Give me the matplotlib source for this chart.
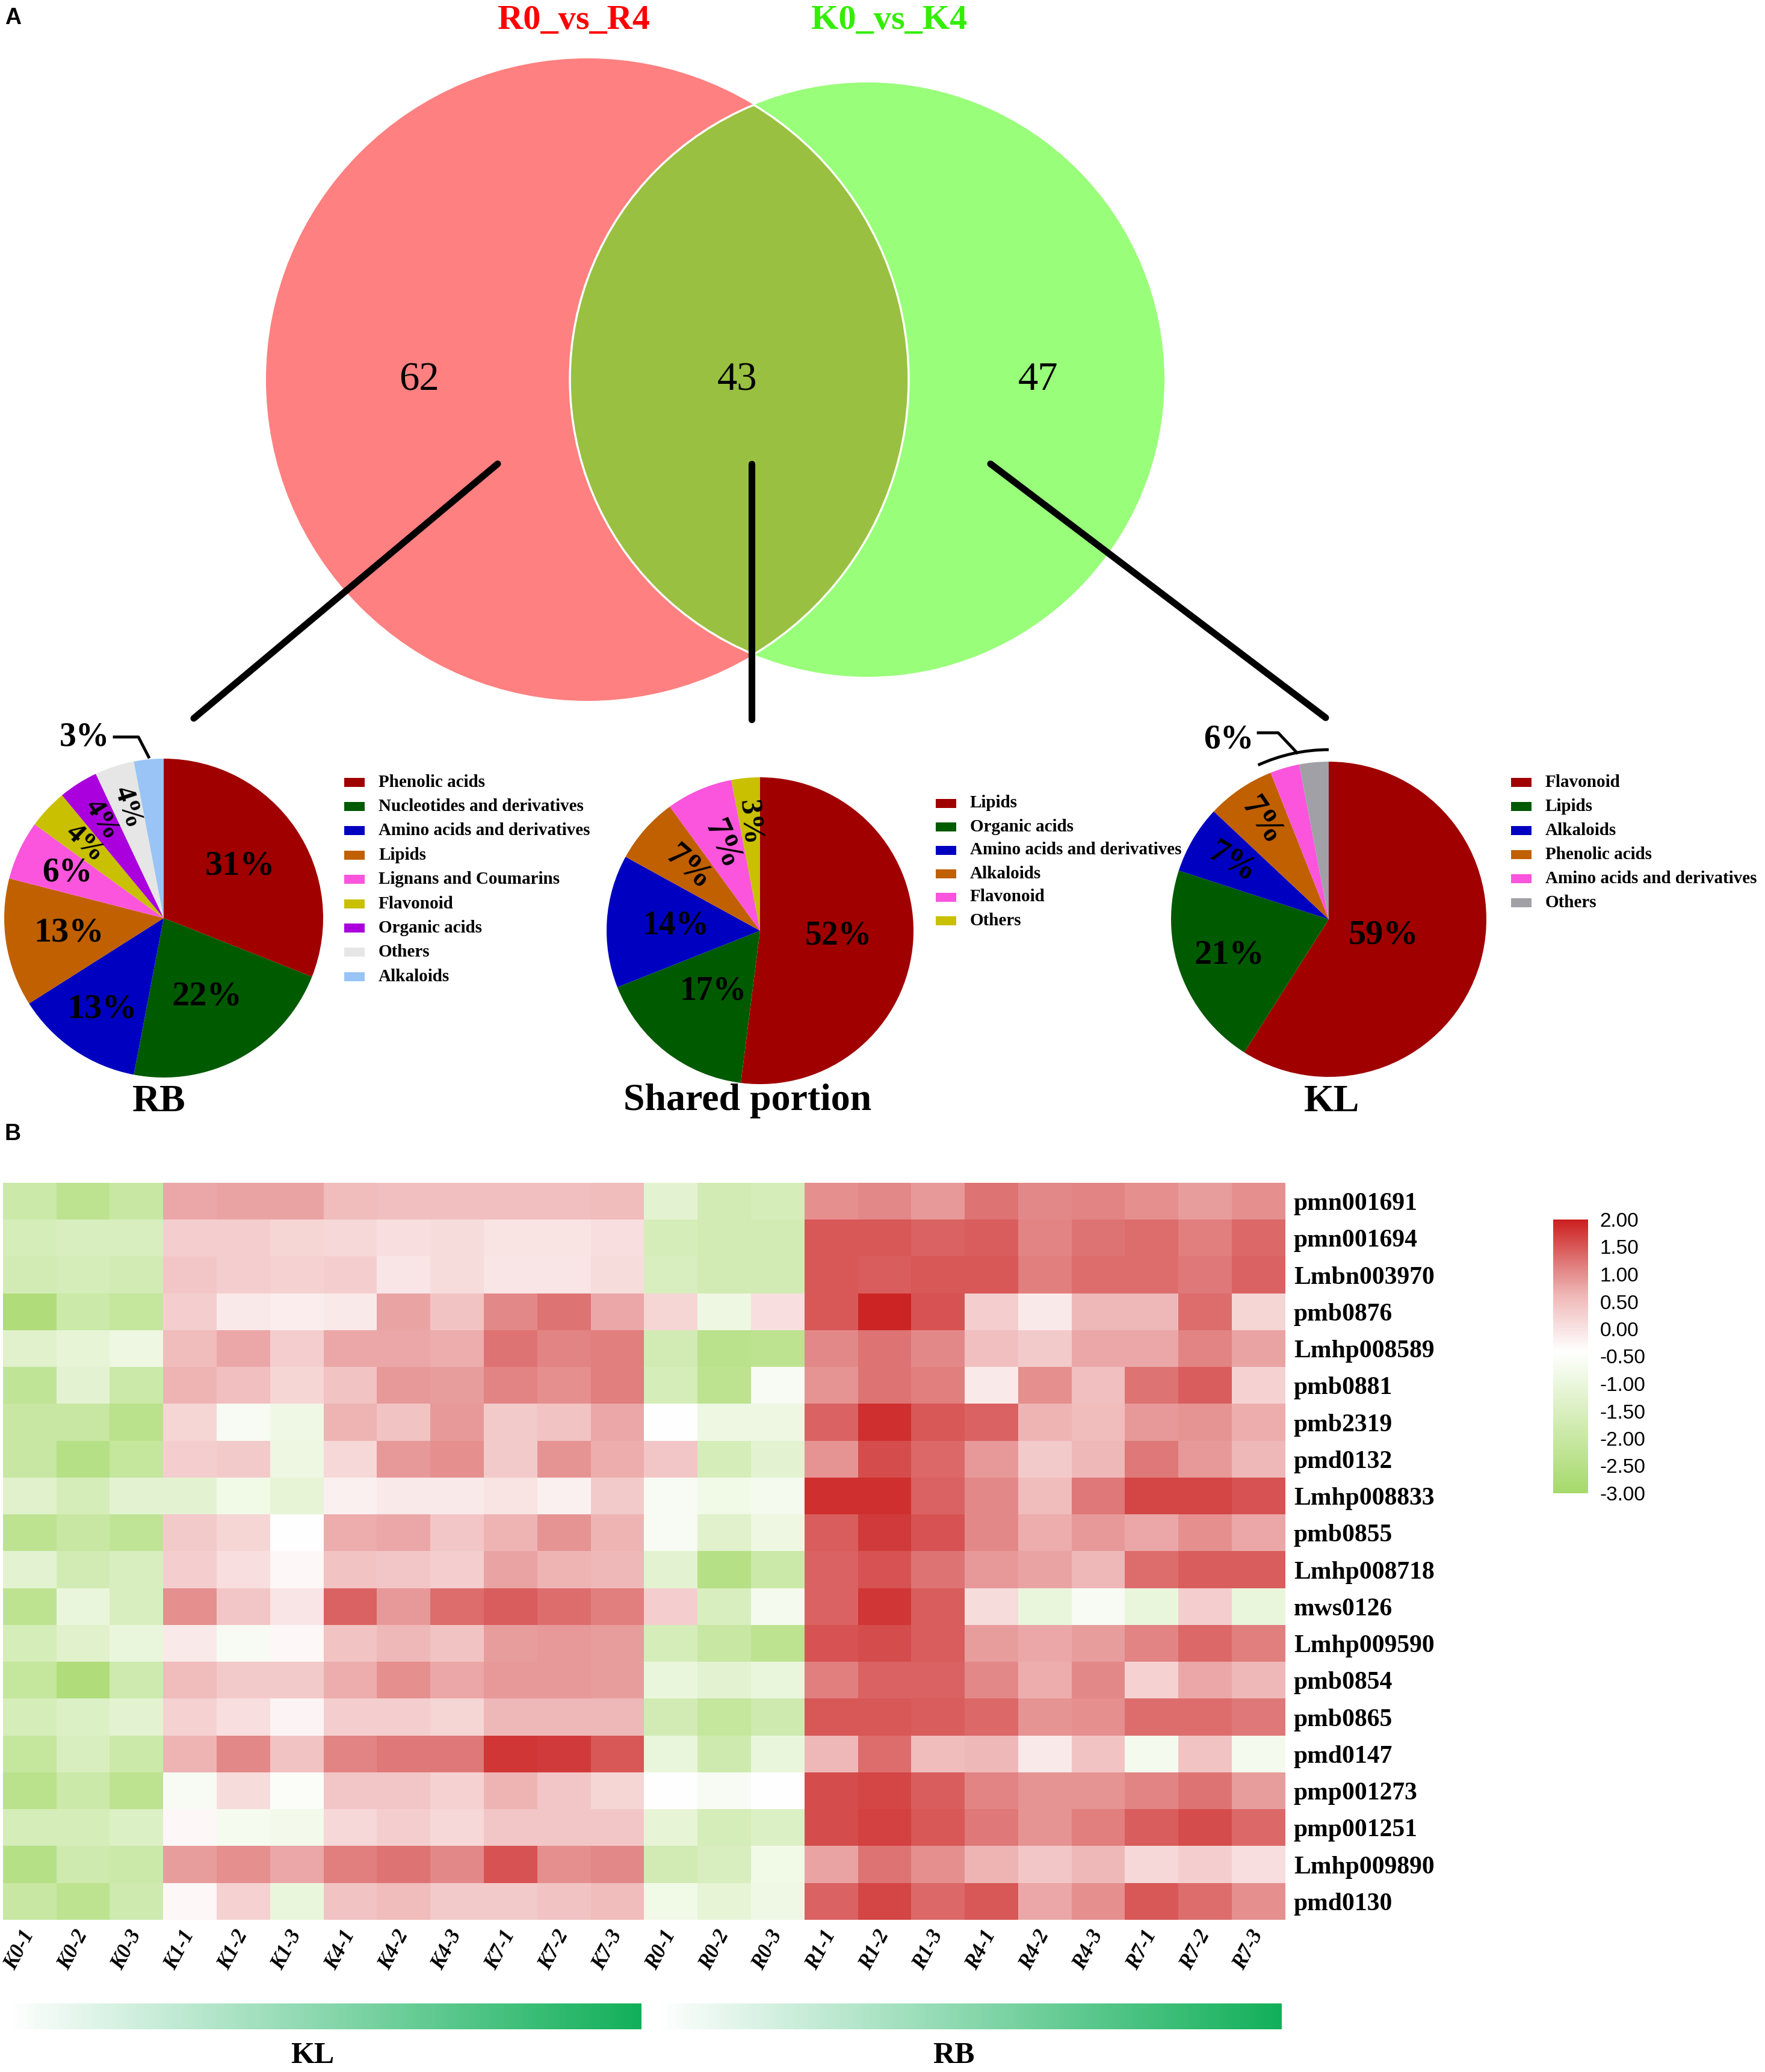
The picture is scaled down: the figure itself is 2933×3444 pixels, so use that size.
import numpy as np
import matplotlib.pyplot as plt
from matplotlib.patches import Circle, Rectangle, Arc
from matplotlib.colors import LinearSegmentedColormap

W, H = 2933, 3444
SERIF = 'Liberation Serif'
SANS = 'Liberation Sans'

# ---- data ----
venn_sets = ['R0_vs_R4', 'K0_vs_K4']
venn_counts = [62, 43, 47]   # R only, shared, K only

rb_classes = ['Phenolic acids', 'Nucleotides and derivatives', 'Amino acids and derivatives',
              'Lipids', 'Lignans and Coumarins', 'Flavonoid', 'Organic acids', 'Others', 'Alkaloids']
rb_pct = [31, 22, 13, 13, 6, 4, 4, 4, 3]
rb_colors = ['#a00000', '#005a00', '#0000c0', '#c06000', '#fa55dc', '#c8c000', '#aa00dd', '#e6e6e6', '#99c4f5']

shared_classes = ['Lipids', 'Organic acids', 'Amino acids and derivatives', 'Alkaloids', 'Flavonoid', 'Others']
shared_pct = [52, 17, 14, 7, 7, 3]
shared_colors = ['#a00000', '#005a00', '#0000c0', '#c06000', '#fa55dc', '#c8c000']

kl_classes = ['Flavonoid', 'Lipids', 'Alkaloids', 'Phenolic acids', 'Amino acids and derivatives', 'Others']
kl_pct = [59, 21, 7, 7, 3, 3]
kl_colors = ['#a00000', '#005a00', '#0000c0', '#c06000', '#fa55dc', '#a0a0a6']

metabolites = ['pmn001691', 'pmn001694', 'Lmbn003970', 'pmb0876', 'Lmhp008589', 'pmb0881',
               'pmb2319', 'pmd0132', 'Lmhp008833', 'pmb0855', 'Lmhp008718', 'mws0126',
               'Lmhp009590', 'pmb0854', 'pmb0865', 'pmd0147', 'pmp001273', 'pmp001251',
               'Lmhp009890', 'pmd0130']
samples = ['K0-1', 'K0-2', 'K0-3', 'K1-1', 'K1-2', 'K1-3', 'K4-1', 'K4-2', 'K4-3', 'K7-1', 'K7-2', 'K7-3',
           'R0-1', 'R0-2', 'R0-3', 'R1-1', 'R1-2', 'R1-3', 'R4-1', 'R4-2', 'R4-3', 'R7-1', 'R7-2', 'R7-3']
groups = ['KL', 'RB']

values = np.array([
    [-1.9, -2.3, -2.0, 0.75, 0.8, 0.8, 0.55, 0.5, 0.5, 0.5, 0.5, 0.55, -1.2, -1.7, -1.6, 1.0, 1.05, 0.9, 1.25, 1.05, 1.1, 1.0, 0.85, 1.0],
    [-1.6, -1.5, -1.5, 0.3, 0.3, 0.2, 0.15, 0.05, 0.1, 0.0, 0.0, 0.05, -1.6, -1.7, -1.7, 1.5, 1.5, 1.4, 1.45, 1.1, 1.25, 1.3, 1.15, 1.35],
    [-1.7, -1.6, -1.7, 0.4, 0.3, 0.25, 0.3, -0.05, 0.1, -0.05, -0.05, 0.1, -1.5, -1.7, -1.7, 1.5, 1.45, 1.5, 1.5, 1.15, 1.3, 1.3, 1.2, 1.4],
    [-2.7, -1.9, -2.1, 0.3, -0.1, -0.15, -0.1, 0.8, 0.45, 1.05, 1.25, 0.75, 0.2, -0.9, 0.05, 1.5, 1.95, 1.55, 0.3, -0.1, 0.6, 0.6, 1.3, 0.2],
    [-1.3, -1.1, -0.9, 0.55, 0.75, 0.3, 0.75, 0.75, 0.7, 1.25, 1.1, 1.15, -1.7, -2.4, -2.3, 1.05, 1.25, 1.05, 0.5, 0.35, 0.75, 0.75, 1.1, 0.8],
    [-2.2, -1.2, -1.9, 0.65, 0.5, 0.2, 0.45, 0.9, 0.85, 1.1, 1.0, 1.15, -1.6, -2.3, -0.6, 0.95, 1.25, 1.15, -0.1, 1.0, 0.5, 1.25, 1.45, 0.25],
    [-2.0, -2.0, -2.4, 0.2, -0.6, -0.85, 0.65, 0.45, 0.9, 0.35, 0.45, 0.75, -0.4, -0.9, -0.9, 1.4, 1.85, 1.5, 1.4, 0.65, 0.55, 0.9, 0.95, 0.7],
    [-2.0, -2.5, -2.1, 0.3, 0.35, -0.9, 0.15, 0.9, 1.0, 0.35, 0.95, 0.7, 0.4, -1.6, -1.2, 0.95, 1.6, 1.35, 0.9, 0.35, 0.6, 1.2, 0.9, 0.6],
    [-1.3, -1.6, -1.2, -1.2, -0.8, -1.1, -0.2, -0.1, -0.1, 0.0, -0.2, 0.35, -0.6, -0.8, -0.7, 1.85, 1.85, 1.4, 1.05, 0.55, 1.2, 1.65, 1.65, 1.55],
    [-2.3, -2.0, -2.2, 0.35, 0.2, -0.4, 0.7, 0.75, 0.4, 0.65, 0.95, 0.65, -0.6, -1.3, -0.9, 1.45, 1.75, 1.55, 1.05, 0.7, 0.9, 0.75, 1.0, 0.75],
    [-1.2, -1.7, -1.5, 0.3, 0.05, -0.3, 0.45, 0.4, 0.3, 0.8, 0.65, 0.6, -1.2, -2.5, -1.9, 1.4, 1.55, 1.25, 0.9, 0.8, 0.6, 1.3, 1.45, 1.45],
    [-2.3, -1.0, -1.5, 1.0, 0.4, -0.05, 1.4, 0.9, 1.3, 1.45, 1.3, 1.15, 0.3, -1.5, -0.7, 1.4, 1.8, 1.45, 0.1, -1.0, -0.6, -1.0, 0.3, -1.0],
    [-1.6, -1.3, -1.0, -0.1, -0.6, -0.3, 0.45, 0.6, 0.45, 0.85, 0.9, 0.85, -1.6, -2.0, -2.3, 1.55, 1.6, 1.45, 0.85, 0.75, 0.85, 1.1, 1.35, 1.15],
    [-2.1, -2.7, -1.8, 0.55, 0.35, 0.35, 0.7, 1.0, 0.75, 0.9, 0.9, 0.85, -1.0, -1.2, -1.0, 1.15, 1.4, 1.4, 1.05, 0.7, 1.05, 0.25, 0.75, 0.6],
    [-1.6, -1.4, -1.2, 0.25, 0.05, -0.25, 0.3, 0.3, 0.2, 0.6, 0.6, 0.6, -1.7, -2.1, -1.8, 1.5, 1.5, 1.45, 1.35, 0.95, 1.0, 1.3, 1.3, 1.2],
    [-2.1, -1.5, -1.9, 0.65, 1.05, 0.45, 1.1, 1.2, 1.2, 1.8, 1.75, 1.5, -1.0, -1.8, -1.0, 0.6, 1.3, 0.55, 0.6, -0.1, 0.45, -0.7, 0.45, -0.7],
    [-2.4, -1.9, -2.3, -0.6, 0.1, -0.5, 0.4, 0.4, 0.25, 0.65, 0.4, 0.2, -0.4, -0.6, -0.4, 1.6, 1.65, 1.45, 1.1, 0.95, 0.95, 1.1, 1.25, 0.85],
    [-1.6, -1.6, -1.4, -0.3, -0.65, -0.75, 0.15, 0.3, 0.15, 0.4, 0.4, 0.4, -1.1, -1.6, -1.4, 1.6, 1.7, 1.5, 1.2, 0.95, 1.15, 1.45, 1.6, 1.35],
    [-2.5, -1.8, -1.9, 0.85, 1.0, 0.75, 1.15, 1.25, 1.05, 1.55, 1.0, 1.05, -1.7, -1.5, -0.8, 0.8, 1.25, 1.0, 0.65, 0.4, 0.6, 0.15, 0.3, 0.05],
    [-2.0, -2.3, -1.8, -0.3, 0.25, -1.0, 0.45, 0.55, 0.35, 0.35, 0.45, 0.55, -0.8, -1.1, -0.85, 1.4, 1.65, 1.35, 1.5, 0.75, 1.0, 1.5, 1.3, 1.0],
])

cbar_ticks = np.arange(-3, 2.01, 0.5)


def iy(y):
    # image row -> data y (y up)
    return H - y


fig = plt.figure(figsize=(W / 100, H / 100), dpi=100)
ax0 = fig.add_axes([0, 0, 1, 1])

# ---- panel A: venn ----
ax0.text(8, iy(12), 'A', family=SANS, fontweight='bold', fontsize=27, ha='left', va='top')
ax0.text(954, iy(8), venn_sets[0], family=SERIF, fontweight='bold', fontsize=42,
         color='#ff0000', ha='center', va='top')
ax0.text(1478, iy(8), venn_sets[1], family=SERIF, fontweight='bold', fontsize=42,
         color='#33ee00', ha='center', va='top')

left = Circle((976, iy(631)), 534, fc='#ff8080', ec='none')
right = Circle((1441, iy(631)), 494, fc='#99ff7a', ec='none')
ax0.add_patch(left)
ax0.add_patch(right)
lens = Circle((1441, iy(631)), 494, fc='#99c040', ec='white', lw=2.5)
ax0.add_patch(lens)
lens.set_clip_path(left)
lens_edge = Circle((976, iy(631)), 534, fc='none', ec='white', lw=2.5)
ax0.add_patch(lens_edge)
lens_edge.set_clip_path(right)

for x, n in zip([696, 1225, 1725], venn_counts):
    ax0.text(x, iy(632), str(n), family=SERIF, fontsize=48, ha='center', va='center')

for (x1, y1), (x2, y2) in [((827, 771), (322, 1194)), ((1249, 771), (1249, 1196)), ((1646, 771), (2203, 1193))]:
    ax0.plot([x1, x2], [iy(y1), iy(y2)], color='black', lw=8, solid_capstyle='round')


def draw_pie(vals, cols, center, r, dists, rots, sizes):
    wedges, _ = ax0.pie(vals, colors=cols, center=center, radius=r, startangle=90,
                        counterclock=False, frame=True, wedgeprops={'linewidth': 0})
    for w, v, d, rot, fs in zip(wedges, vals, dists, rots, sizes):
        if d is None:
            continue
        ang = (w.theta1 + w.theta2) / 2
        x = center[0] + d * r * np.cos(np.deg2rad(ang))
        y = center[1] + d * r * np.sin(np.deg2rad(ang))
        rotation = (ang % 360) - 180 if rot else 0
        ax0.text(x, y, f'{v}%', family=SERIF, fontweight='bold', fontsize=fs,
                 rotation=rotation, ha='center', va='center', rotation_mode='anchor')
    return wedges


def draw_legend(classes, cols, x, y0, step):
    for i, (lab, c) in enumerate(zip(classes, cols)):
        y = y0 + i * step
        ax0.add_patch(Rectangle((x, iy(y) - 7.5), 34, 15, fc=c, ec='none'))
        ax0.text(x + 57, iy(y), lab, family=SERIF, fontweight='bold', fontsize=21,
                 ha='left', va='center')


# RB pie
rb_c, rb_r = (272, iy(1526)), 265
rb_w = draw_pie(rb_pct, rb_colors, rb_c, rb_r,
                [0.58, 0.56, 0.69, 0.6, 0.67, 0.68, 0.73, 0.73, None],
                [False] * 5 + [True] * 3 + [False],
                [42, 42, 42, 42, 40, 34, 34, 34, 0])
a = np.deg2rad((rb_w[-1].theta1 + rb_w[-1].theta2) / 2)
ex, ey = rb_c[0] + rb_r * np.cos(a), rb_c[1] + rb_r * np.sin(a)
ax0.plot([190, 230, ex], [iy(1225), iy(1225), ey + 4], color='black', lw=3.5)
ax0.text(140, iy(1226), f'{rb_pct[-1]}%', family=SERIF, fontweight='bold', fontsize=40,
         ha='center', va='center')
draw_legend(rb_classes, rb_colors, 572, 1300, 40.4)
ax0.text(264, iy(1832), 'RB', family=SERIF, fontweight='bold', fontsize=46, ha='center', va='center')

# shared pie
sh_c, sh_r = (1263, iy(1547)), 255
draw_pie(shared_pct, shared_colors, sh_c, sh_r,
         [0.51, 0.5, 0.55, 0.62, 0.61, 0.71],
         [False, False, False, True, True, True],
         [40, 40, 40, 40, 40, 36])
draw_legend(shared_classes, shared_colors, 1555, 1335, 39)
ax0.text(1242, iy(1830), 'Shared portion', family=SERIF, fontweight='bold', fontsize=46,
         ha='center', va='center')

# KL pie
kl_c, kl_r = (2208, iy(1528)), 262
kl_w = draw_pie(kl_pct, kl_colors, kl_c, kl_r,
                [0.36, 0.67, 0.71, 0.75, None, None],
                [False, False, True, True, False, False],
                [42, 42, 40, 40, 0, 0])
t_lo = min(kl_w[-2].theta1, kl_w[-2].theta2, kl_w[-1].theta1, kl_w[-1].theta2)
t_hi = max(kl_w[-2].theta1, kl_w[-2].theta2, kl_w[-1].theta1, kl_w[-1].theta2)
arc_r = kl_r * 1.076
ax0.add_patch(Arc(kl_c, 2 * arc_r, 2 * arc_r, theta1=t_lo % 360, theta2=t_hi % 360 + 3,
                  color='black', lw=3.5))
am = np.deg2rad((t_lo + t_hi) / 2)
ax0.plot([2091, 2124, kl_c[0] + arc_r * np.cos(am)],
         [iy(1218), iy(1218), kl_c[1] + arc_r * np.sin(am)], color='black', lw=3.5)
ax0.text(2042, iy(1229), f'{kl_pct[-2] + kl_pct[-1]}%', family=SERIF, fontweight='bold', fontsize=40,
         ha='center', va='center')
draw_legend(kl_classes, kl_colors, 2511, 1300, 40.1)
ax0.text(2213, iy(1832), 'KL', family=SERIF, fontweight='bold', fontsize=46, ha='center', va='center')

ax0.text(8, iy(1885), 'B', family=SANS, fontweight='bold', fontsize=27, ha='left', va='center')

ax0.set_xlim(0, W)
ax0.set_ylim(0, H)
ax0.set_aspect('auto')
ax0.axis('off')

# ---- panel B: heatmap ----
cmap = LinearSegmentedColormap.from_list('gwr', [
    (0.0, '#a6d96a'),
    (2.6 / 5, '#ffffff'),
    (3.6 / 5, '#f0b9b9'),
    (4.2 / 5, '#e07a7a'),
    (1.0, '#cc2020'),
])

axh = fig.add_axes([5 / W, 1 - 3191 / H, 2131 / W, 1225 / H])
im = axh.imshow(values, cmap=cmap, vmin=-3, vmax=2, aspect='auto', interpolation='nearest')
axh.set_xticks(range(len(samples)))
axh.set_xticklabels(samples, rotation=62, ha='right', va='center', rotation_mode='anchor',
                    family=SERIF, fontweight='bold', fontstyle='italic', fontsize=25)
axh.yaxis.tick_right()
axh.set_yticks(range(len(metabolites)))
axh.set_yticklabels(metabolites, family=SERIF, fontweight='bold', fontsize=30)
axh.tick_params(axis='y', length=0, pad=10)
axh.tick_params(axis='x', length=0, pad=14)
for s in axh.spines.values():
    s.set_visible(False)

cax = fig.add_axes([2581 / W, 1 - 2482 / H, 58 / W, 455 / H])
cb = fig.colorbar(im, cax=cax, ticks=cbar_ticks, format='%.2f')
cb.outline.set_visible(False)
cax.tick_params(length=0, pad=14, labelsize=24)
for t in cax.get_yticklabels():
    t.set_family(SANS)

# group bars
gcmap = LinearSegmentedColormap.from_list('wg', ['#ffffff', '#12b05a'])
grad = np.linspace(0, 1, 256)[None, :]
for (x0, x1), g, tx in zip([(14, 1066), (1094, 2130)], groups, [519, 1585]):
    axg = fig.add_axes([x0 / W, 1 - 3373 / H, (x1 - x0) / W, 43 / H])
    axg.imshow(grad, cmap=gcmap, aspect='auto')
    axg.axis('off')
    ax0.text(tx, iy(3417), g, family=SERIF, fontweight='bold', fontsize=36, ha='center', va='center')

fig.savefig('out.png', dpi=100)
